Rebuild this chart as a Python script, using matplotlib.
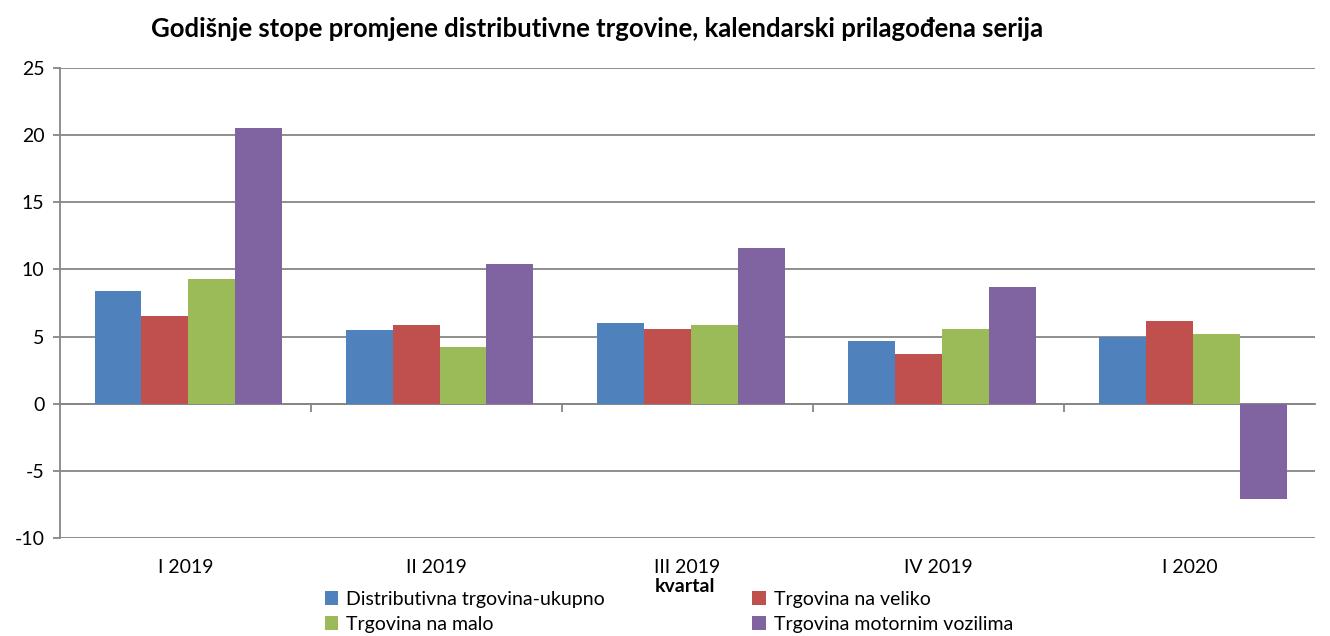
import numpy as np
import matplotlib
matplotlib.use("Agg")
import matplotlib.pyplot as plt

plt.rcParams['font.family'] = ['Lato', 'DejaVu Sans']
plt.rcParams['axes.unicode_minus'] = False

# quarters and annual change rates (%)
kvartali = ['I 2019', 'II 2019', 'III 2019', 'IV 2019', 'I 2020']
ukupno = [8.4, 5.5, 6.0, 4.7, 5.0]
veliko = [6.5, 5.9, 5.6, 3.7, 6.2]
malo = [9.3, 4.2, 5.9, 5.6, 5.2]
motorna = [20.5, 10.4, 11.6, 8.7, -7.1]

serije = [ukupno, veliko, malo, motorna]
nazivi = ['Distributivna trgovina-ukupno', 'Trgovina na veliko',
          'Trgovina na malo', 'Trgovina motornim vozilima']
boje = ['#4F81BD', '#C0504D', '#9BBB59', '#8064A2']
siva = '#868686'

fig = plt.figure(figsize=(13.3, 6.36), dpi=100)
ax = fig.add_axes([0.045, 0.154, 0.944, 0.739])

x = np.arange(len(kvartali))
w = 0.187
bars = []
for i, (vals, naziv, boja) in enumerate(zip(serije, nazivi, boje)):
    bars.append(ax.bar(x + (i - 1.5) * w + 0.012, vals, w, color=boja, label=naziv, zorder=3))

ax.set_xlim(-0.5, len(kvartali) - 0.5)
ax.set_ylim(-10, 25)
ax.set_yticks(range(-10, 30, 5))
ax.yaxis.grid(True, color=siva, linewidth=1.3, zorder=0)
ax.tick_params(axis='y', length=5, width=1.3, color=siva, labelsize=14, pad=6)

for s in ['top', 'right']:
    ax.spines[s].set_visible(False)
ax.spines['left'].set_color(siva)
ax.spines['left'].set_linewidth(1.3)
ax.spines['bottom'].set_position(('data', 0))
ax.spines['bottom'].set_color(siva)
ax.spines['bottom'].set_linewidth(1.3)

# category separators on zero line
ax.set_xticks(np.arange(0.5, len(kvartali) - 0.5), minor=True)
ax.set_xticks([])
ax.tick_params(axis='x', which='minor', length=6, width=1.3, color=siva)

sec = ax.secondary_xaxis('bottom')
sec.spines['bottom'].set_visible(False)
sec.set_xticks(x)
sec.set_xticklabels(kvartali)
sec.tick_params(length=0, labelsize=14, pad=15)

fig.text(0.515, 0.078, 'kvartal', ha='center', va='center',
         fontsize=14, fontweight='bold')

fig.text(0.449, 0.955, 'Godišnje stope promjene distributivne trgovine, kalendarski prilagođena serija',
         ha='center', va='center', fontsize=18.5, fontweight='bold')

# row-major order in a two-column legend
red = [0, 2, 1, 3]
fig.legend([bars[i] for i in red], [nazivi[i] for i in red],
           loc='upper left', bbox_to_anchor=(0.244, 0.071), ncol=2,
           frameon=False, fontsize=14, handlelength=0.7, handleheight=0.7,
           handletextpad=0.4, columnspacing=7.6, labelspacing=0.42,
           borderaxespad=0, borderpad=0)

fig.savefig('out.png', dpi=100)
